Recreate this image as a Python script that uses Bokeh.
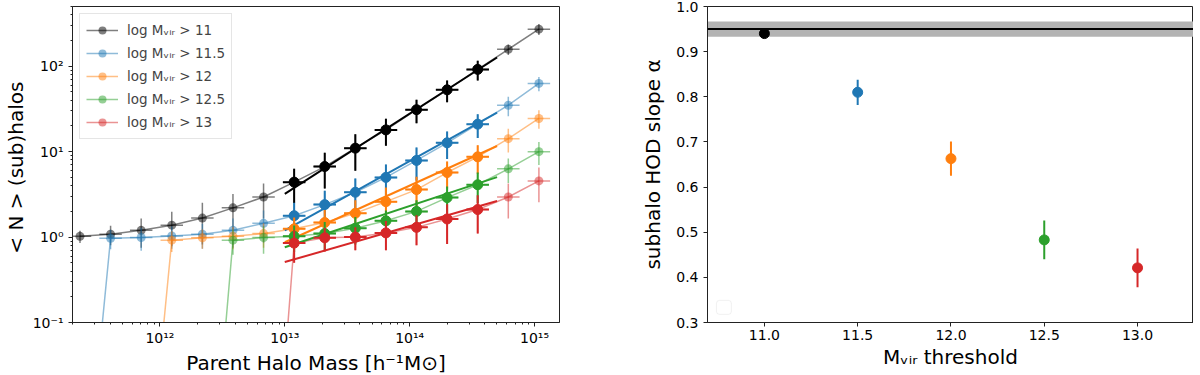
import numpy as np
from bokeh.plotting import figure
from bokeh.layouts import row
from bokeh.models import (Legend, LegendItem, CustomJSTickFormatter, FixedTicker,
                          NumeralTickFormatter, BoxAnnotation, Span, Range1d)
from bokeh.embed import file_html
from bokeh.resources import INLINE

# ---------------- data ----------------
log_mass = [11.36, 11.605, 11.85, 12.095, 12.34, 12.585, 12.83, 13.075,
            13.32, 13.565, 13.81, 14.055, 14.30, 14.545, 14.79, 15.035]
mass_xerr_dex = [0.09] * 16

labels = ["log M\u1d65\u1d62\u1d63 > 11", "log M\u1d65\u1d62\u1d63 > 11.5",
          "log M\u1d65\u1d62\u1d63 > 12", "log M\u1d65\u1d62\u1d63 > 12.5",
          "log M\u1d65\u1d62\u1d63 > 13"]
colors = ["#000000", "#1f77b4", "#ff7f0e", "#2ca02c", "#d62728"]

n_11 = [1.02, 1.08, 1.2, 1.38, 1.67, 2.2, 2.95, 4.4, 6.7, 11, 18, 31, 53, 92, 158, 272]
e_11 = [0.17, 0.28, 0.45, 0.6, 0.85, 1.0, 1.3, 1.9, 3.0, 5.0, 6.3, 9.5, 15, 24, 22, 40]
n_115 = [2e-4, 0.97, 0.99, 1.03, 1.08, 1.2, 1.45, 1.78, 2.4, 3.35, 5.0, 7.9, 12.7, 21, 35, 63]
e_115 = [0, 0.25, 0.3, 0.3, 0.35, 0.45, 0.6, 0.75, 1.1, 1.5, 2.1, 3.3, 4.5, 6.5, 9, 12]
n_12 = [1.7e-4, 1.7e-4, 1.7e-4, 0.92, 0.98, 1.02, 1.1, 1.25, 1.48, 1.9, 2.6, 3.6, 5.7, 8.7, 14.2, 24.5]
e_12 = [0, 0, 0, 0.25, 0.25, 0.3, 0.35, 0.45, 0.6, 0.8, 1.2, 1.5, 2.0, 3.2, 4.4, 6.0]
n_125 = [6e-5, 6e-5, 6e-5, 6e-5, 6e-5, 0.92, 0.99, 1.02, 1.1, 1.27, 1.55, 2.0, 2.9, 4.1, 6.3, 10]
e_125 = [0, 0, 0, 0, 0, 0.3, 0.35, 0.35, 0.4, 0.45, 0.5, 0.7, 1.0, 1.6, 2.0, 3.0]
n_13 = [2e-5, 2e-5, 2e-5, 2e-5, 2e-5, 2e-5, 2e-5, 0.85, 0.98, 1.0, 1.12, 1.3, 1.63, 2.1, 2.95, 4.55]
e_13 = [0, 0, 0, 0, 0, 0, 0, 0.35, 0.3, 0.3, 0.42, 0.5, 0.8, 1.0, 1.3, 2.0]

series_n = [n_11, n_115, n_12, n_125, n_13]
series_e = [e_11, e_115, e_12, e_125, e_13]

fit_first, fit_last = 7, 13          # bins used in fit (solid points)
fit_logm_range = [13.0, 14.7]
fit_amp = [3.2, 1.2, 0.87, 0.76, 0.51]   # N at 1e13

thresholds = [11.0, 11.5, 12.0, 12.5, 13.0]
slope_alpha = [0.94, 0.81, 0.663, 0.483, 0.421]
slope_err = [0.01, 0.028, 0.038, 0.043, 0.043]
band_mean = 0.95
band_half = 0.017

FONT = "DejaVu Sans"


def style(p):
    p.outline_line_color = "#222222"
    p.outline_line_width = 1
    p.xgrid.visible = False
    p.ygrid.visible = False
    p.background_fill_color = "white"
    p.border_fill_color = "white"
    for ax in (p.xaxis[0], p.yaxis[0]):
        ax.axis_line_color = "#222222"
        ax.major_tick_line_color = "#222222"
        ax.minor_tick_line_color = "#222222"
        ax.major_tick_in = 0
        ax.major_tick_out = 4
        ax.minor_tick_in = 0
        ax.minor_tick_out = 2
        ax.major_label_text_font = FONT
        ax.major_label_text_font_size = "14px"
        ax.major_label_text_color = "black"
        ax.axis_label_text_font = FONT
        ax.axis_label_text_font_size = "20px"
        ax.axis_label_text_font_style = "normal"
        ax.axis_label_text_color = "black"
    p.xaxis[0].axis_label_standoff = 2
    p.xaxis[0].major_label_standoff = 3
    p.yaxis[0].axis_label_standoff = 2


# ---------------- left panel ----------------
p1 = figure(x_axis_type="log", y_axis_type="log",
            x_range=Range1d(10 ** 11.3, 10 ** 15.2), y_range=Range1d(0.1, 10 ** 2.7),
            frame_width=487, frame_height=316,
            min_border_left=63, min_border_right=10, min_border_top=6, min_border_bottom=44,
            output_backend="svg", toolbar_location=None)
style(p1)
sup = CustomJSTickFormatter(code="""
const m = {'-':'\u207b','0':'\u2070','1':'\u00b9','2':'\u00b2','3':'\u00b3','4':'\u2074',
           '5':'\u2075','6':'\u2076','7':'\u2077','8':'\u2078','9':'\u2079'};
const e = Math.round(Math.log10(tick));
return '10' + String(e).split('').map(c => m[c]).join('');
""")
p1.xaxis.formatter = sup
p1.yaxis.formatter = sup
p1.xaxis.axis_label = "Parent Halo Mass [h\u207b\u00b9M\u2299]"
p1.yaxis.axis_label = "< N >  (sub)halos"

M = [10 ** v for v in log_mass]
legend_items = []


def err_segments(idx, n, e):
    xs0, xs1, ys0, ys1 = [], [], [], []
    for i in idx:
        lo = max(n[i] - e[i], 1e-6)
        hi = n[i] + e[i]
        xs0.append(M[i]); xs1.append(M[i]); ys0.append(lo); ys1.append(hi)
    return xs0, ys0, xs1, ys1


def xerr_segments(idx, n):
    xs0, xs1, ys = [], [], []
    for i in idx:
        xs0.append(10 ** (log_mass[i] - mass_xerr_dex[i]))
        xs1.append(10 ** (log_mass[i] + mass_xerr_dex[i]))
        ys.append(n[i])
    return xs0, ys, xs1, ys


all_idx = list(range(len(log_mass)))
solid_idx = list(range(fit_first, fit_last + 1))

# faded: all bins
for k in range(5):
    n, e, c = series_n[k], series_e[k], colors[k]
    x0, y0, x1, y1 = err_segments(all_idx, n, e)
    p1.segment(x0, y0, x1, y1, line_color=c, line_alpha=0.5, line_width=1.5)
    x0, y0, x1, y1 = xerr_segments(all_idx, n)
    p1.segment(x0, y0, x1, y1, line_color=c, line_alpha=0.5, line_width=1.5)
    lr = p1.line(M, n, line_color=c, line_alpha=0.5, line_width=1.5)
    sr = p1.scatter(M, n, size=9, fill_color=c, line_color=c, fill_alpha=0.5, line_alpha=0.0)
    legend_items.append(LegendItem(label=labels[k], renderers=[lr, sr]))

# solid: fitted bins + power-law fit
for k in range(5):
    n, e, c = series_n[k], series_e[k], colors[k]
    fx = [10 ** fit_logm_range[0], 10 ** fit_logm_range[1]]
    fy = [fit_amp[k] * (x / 1e13) ** slope_alpha[k] for x in fx]
    p1.line(fx, fy, line_color=c, line_width=2)
    x0, y0, x1, y1 = err_segments(solid_idx, n, e)
    p1.segment(x0, y0, x1, y1, line_color=c, line_width=2)
    x0, y0, x1, y1 = xerr_segments(solid_idx, n)
    p1.segment(x0, y0, x1, y1, line_color=c, line_width=2)
    p1.scatter([M[i] for i in solid_idx], [n[i] for i in solid_idx], size=10,
               fill_color=c, line_color=c)

legend = Legend(items=legend_items, location="top_left",
                label_text_font=FONT, label_text_font_size="13.5px",
                glyph_width=32, glyph_height=20, label_height=20, spacing=3,
                padding=6, margin=7, label_standoff=9,
                border_line_color="#cccccc", border_line_width=1,
                background_fill_alpha=0.8)
p1.add_layout(legend)

# ---------------- right panel ----------------
x_lo, x_hi = 10.695, 13.3
p2 = figure(x_range=Range1d(x_lo, x_hi), y_range=Range1d(0.3, 1.0),
            frame_width=486, frame_height=316,
            min_border_left=138, min_border_right=0, min_border_top=6, min_border_bottom=44,
            output_backend="svg", toolbar_location=None)
style(p2)
p2.xaxis.ticker = FixedTicker(ticks=thresholds)
p2.yaxis.ticker = FixedTicker(ticks=[0.3, 0.4, 0.5, 0.6, 0.7, 0.8, 0.9, 1.0])
p2.xaxis.formatter = NumeralTickFormatter(format="0.0")
p2.yaxis.formatter = NumeralTickFormatter(format="0.0")
p2.xaxis.minor_tick_line_color = None
p2.yaxis.minor_tick_line_color = None
p2.xaxis.axis_label = "M\u1d65\u1d62\u1d63 threshold"
p2.yaxis.axis_label = "subhalo HOD slope \u03b1"
p2.yaxis.axis_label_standoff = 8

p2.add_layout(BoxAnnotation(bottom=band_mean - band_half, top=band_mean + band_half,
                            fill_color="#b3b3b3", fill_alpha=1.0, line_color=None, level="underlay"))
p2.add_layout(Span(location=band_mean, dimension="width", line_color="black", line_width=2))

for k in range(5):
    p2.segment([thresholds[k]], [slope_alpha[k] - slope_err[k]],
               [thresholds[k]], [slope_alpha[k] + slope_err[k]],
               line_color=colors[k], line_width=2)
    p2.scatter([thresholds[k]], [slope_alpha[k]], size=10,
               fill_color=colors[k], line_color=colors[k])

# empty legend frame (as in the original)
box_kw = dict(left=x_lo + 0.048, right=x_lo + 0.128, bottom=0.318, top=0.349,
              fill_color="white", fill_alpha=0.8, line_color="#d0d0d0", line_width=1)
try:
    eb = BoxAnnotation(border_radius=3, **box_kw)
except Exception:
    eb = BoxAnnotation(**box_kw)
p2.add_layout(eb)

layout = row(p1, p2, spacing=0)
open("out.html", "w").write(file_html(layout, INLINE))
